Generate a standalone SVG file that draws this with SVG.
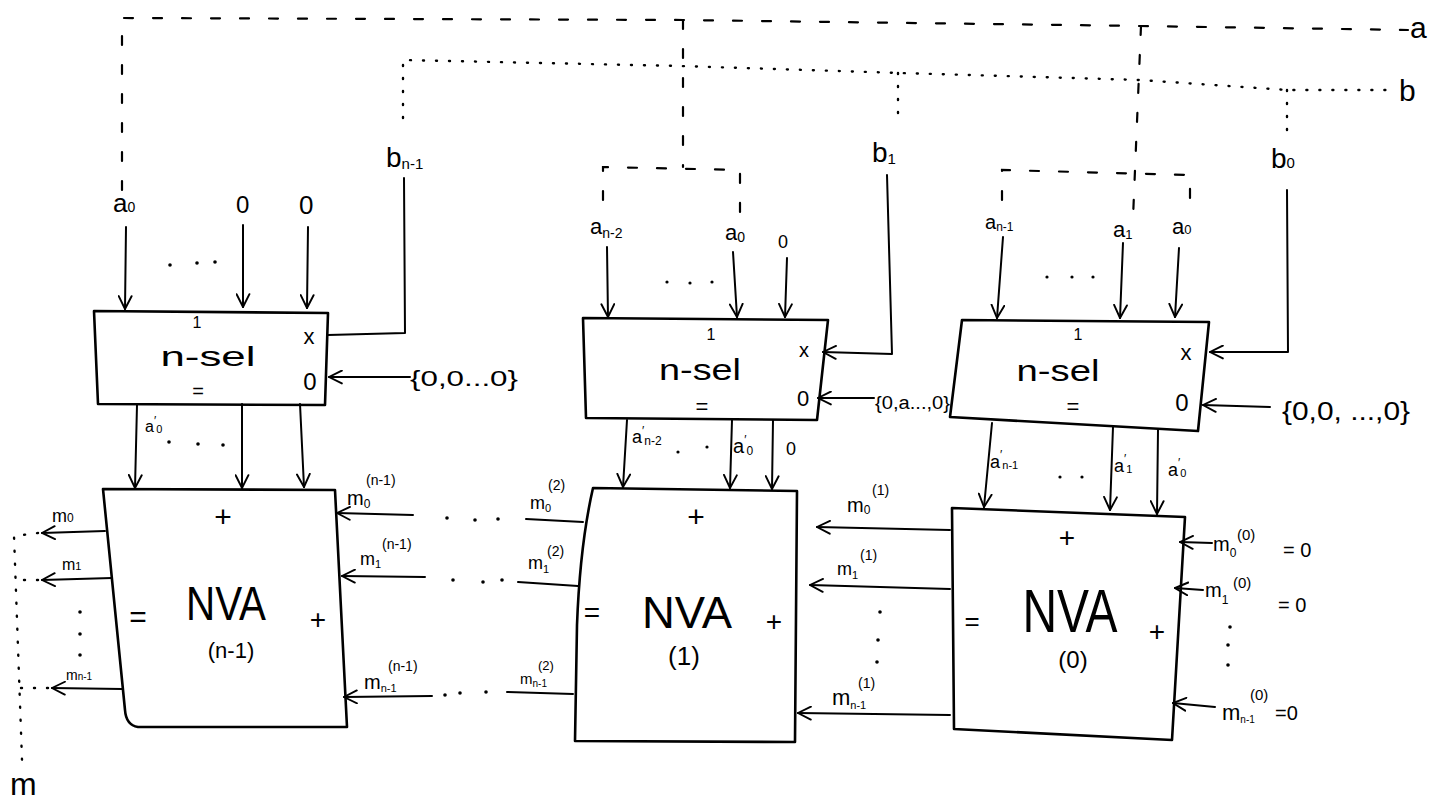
<svg xmlns="http://www.w3.org/2000/svg" width="1446" height="811" viewBox="0 0 1446 811">
<defs>
<marker id="ah" viewBox="0 0 14 14" refX="13" refY="7" markerWidth="15" markerHeight="15" markerUnits="userSpaceOnUse" orient="auto">
<path d="M1,1 L13,7 L1,13" fill="none" stroke="#000" stroke-width="1.8" stroke-linecap="round"/>
</marker>
<style>
.ln{stroke:#000;fill:none;stroke-width:2;stroke-linecap:round;stroke-linejoin:round}
.box{stroke:#000;fill:none;stroke-width:2.6;stroke-linejoin:round}
.dash{stroke:#000;fill:none;stroke-width:2.2;stroke-dasharray:9 20;stroke-linecap:round}
.dot{stroke:#000;fill:none;stroke-width:2.4;stroke-dasharray:1 12;stroke-linecap:round}
.dt{fill:#000}
text{font-family:"Liberation Sans",Arial,sans-serif;fill:#000}
.c{text-anchor:middle}
</style>
</defs>
<rect width="1446" height="811" fill="#fff"/>

<g id="connectors">
<!-- bus a (dashed) -->
<path class="dash" d="M122,190 L122,18 L683,20 L1140,26 L1408,30"/>
<path class="dash" d="M683,20 L683,167"/>
<path class="dash" d="M603,200 L603,167 L740,170 L740,216"/>
<path class="dash" d="M1141,26 L1133,218"/>
<path class="dash" d="M1002,200 L1002,170 L1190,175 L1190,210"/>
<!-- bus b (dotted) -->
<path class="dot" d="M403,118 L403,60 L680,66 L900,73 L1140,80 L1287,90 L1392,90"/>
<path class="dot" d="M898,73 L898,120"/>
<path class="dot" d="M1287,90 L1287,130"/>
<!-- b lines into n-sel x ports -->
<path class="ln" d="M404,178 L405,333 L328,335"/>
<path class="ln" d="M887,175 L892,354 L823,352" marker-end="url(#ah)"/>
<path class="ln" d="M1287,190 L1288,352 L1210,352" marker-end="url(#ah)"/>
<!-- n-sel 1 inputs -->
<path class="ln" d="M126,227 L125,309" marker-end="url(#ah)"/>
<path class="ln" d="M243,225 L243,307" marker-end="url(#ah)"/>
<path class="ln" d="M308,227 L307,308" marker-end="url(#ah)"/>
<path class="ln" d="M410,377 L329,377" marker-end="url(#ah)"/>
<!-- n-sel 2 inputs -->
<path class="ln" d="M607,247 L608,317" marker-end="url(#ah)"/>
<path class="ln" d="M733,252 L737,317" marker-end="url(#ah)"/>
<path class="ln" d="M787,258 L785,317" marker-end="url(#ah)"/>
<path class="ln" d="M874,398 L818,398" marker-end="url(#ah)"/>
<!-- n-sel 3 inputs -->
<path class="ln" d="M1003,237 L997,318" marker-end="url(#ah)"/>
<path class="ln" d="M1123,243 L1120,318" marker-end="url(#ah)"/>
<path class="ln" d="M1179,248 L1175,317" marker-end="url(#ah)"/>
<path class="ln" d="M1270,407 L1203,405" marker-end="url(#ah)"/>
<!-- n-sel to NVA -->
<path class="ln" d="M137,405 L135,488" marker-end="url(#ah)"/>
<path class="ln" d="M242,404 L242,488" marker-end="url(#ah)"/>
<path class="ln" d="M300,404 L304,487" marker-end="url(#ah)"/>
<path class="ln" d="M627,420 L623,487" marker-end="url(#ah)"/>
<path class="ln" d="M732,420 L730,488" marker-end="url(#ah)"/>
<path class="ln" d="M773,420 L772,489" marker-end="url(#ah)"/>
<path class="ln" d="M992,423 L984,507" marker-end="url(#ah)"/>
<path class="ln" d="M1113,427 L1110,510" marker-end="url(#ah)"/>
<path class="ln" d="M1158,430 L1157,514" marker-end="url(#ah)"/>
<!-- NVA 1 outputs to m -->
<path class="ln" d="M105,531 L42,533" marker-end="url(#ah)"/>
<path class="ln" d="M112,578 L42,580" marker-end="url(#ah)"/>
<path class="ln" d="M122,689 L52,688" marker-end="url(#ah)"/>
<path class="dot" d="M38,533 L14,536 L22,760"/>
<path class="dot" d="M38,580 L18,580"/>
<path class="dot" d="M48,688 L20,688"/>
<!-- NVA 2 -> NVA 1 -->
<path class="ln" d="M413,515 L337,513" marker-end="url(#ah)"/>
<path class="ln" d="M425,577 L342,576" marker-end="url(#ah)"/>
<path class="ln" d="M432,696 L344,697" marker-end="url(#ah)"/>
<path class="ln" d="M526,519 L583,522"/>
<path class="ln" d="M518,582 L578,586"/>
<path class="ln" d="M507,692 L573,694"/>
<!-- NVA 3 -> NVA 2 -->
<path class="ln" d="M950,530 L817,527" marker-end="url(#ah)"/>
<path class="ln" d="M950,589 L810,585" marker-end="url(#ah)"/>
<path class="ln" d="M950,715 L798,713" marker-end="url(#ah)"/>
<!-- zero inputs into NVA 3 -->
<path class="ln" d="M1212,543 L1180,542" marker-end="url(#ah)"/>
<path class="ln" d="M1203,590 L1175,588" marker-end="url(#ah)"/>
<path class="ln" d="M1215,707 L1173,703" marker-end="url(#ah)"/>
</g>

<g id="ellipses" class="dt">
<circle cx="170" cy="265" r="1.8"/><circle cx="197" cy="263" r="1.8"/><circle cx="215" cy="262" r="1.8"/>
<circle cx="667" cy="282" r="1.6"/><circle cx="690" cy="283" r="1.6"/><circle cx="712" cy="282" r="1.6"/>
<circle cx="1047" cy="277" r="1.6"/><circle cx="1072" cy="277" r="1.6"/><circle cx="1093" cy="277" r="1.6"/>
<circle cx="169" cy="442" r="1.8"/><circle cx="198" cy="444" r="1.8"/><circle cx="223" cy="445" r="1.8"/>
<circle cx="678" cy="452" r="1.6"/><circle cx="707" cy="447" r="1.6"/>
<circle cx="1060" cy="477" r="1.6"/><circle cx="1082" cy="477" r="1.6"/>
<circle cx="80" cy="612" r="1.8"/><circle cx="80" cy="634" r="1.8"/><circle cx="80" cy="655" r="1.8"/>
<circle cx="447" cy="518" r="1.8"/><circle cx="475" cy="520" r="1.8"/><circle cx="498" cy="519" r="1.8"/>
<circle cx="453" cy="580" r="1.8"/><circle cx="483" cy="582" r="1.8"/><circle cx="502" cy="580" r="1.8"/>
<circle cx="445" cy="695" r="1.8"/><circle cx="460" cy="693" r="1.8"/><circle cx="486" cy="692" r="1.8"/>
<circle cx="880" cy="612" r="1.8"/><circle cx="878" cy="640" r="1.8"/><circle cx="877" cy="662" r="1.8"/>
<circle cx="1230" cy="627" r="1.8"/><circle cx="1228" cy="645" r="1.8"/><circle cx="1228" cy="665" r="1.8"/>
</g>

<g id="nsel1">
<path class="box" d="M94,311 L328,313 L325,405 L98,404 Z"/>
<text x="197" y="328" class="c" font-size="16">1</text>
<text x="208" y="366" class="c" font-size="28" textLength="95" lengthAdjust="spacingAndGlyphs">n-sel</text>
<text x="198" y="398" class="c" font-size="20">=</text>
<text x="309" y="344" class="c" font-size="22">x</text>
<text x="310" y="390" class="c" font-size="24">0</text>
</g>
<g id="nsel2">
<path class="box" d="M583,318 L828,320 L817,420 L586,418 Z"/>
<text x="711" y="340" class="c" font-size="16">1</text>
<text x="700" y="380" class="c" font-size="30" textLength="82" lengthAdjust="spacingAndGlyphs">n-sel</text>
<text x="702" y="414" class="c" font-size="22">=</text>
<text x="804" y="357" class="c" font-size="20">x</text>
<text x="803" y="406" class="c" font-size="22">0</text>
</g>
<g id="nsel3">
<path class="box" d="M962,320 L1209,322 L1198,431 L950,417 Z"/>
<text x="1078" y="340" class="c" font-size="16">1</text>
<text x="1058" y="381" class="c" font-size="30" textLength="83" lengthAdjust="spacingAndGlyphs">n-sel</text>
<text x="1073" y="414" class="c" font-size="22">=</text>
<text x="1186" y="360" class="c" font-size="22">x</text>
<text x="1182" y="411" class="c" font-size="24">0</text>
</g>

<g id="nva1">
<path class="box" d="M103,489 L335,490 L347,727 L138,727 Q126,725 125,710 Z"/>
<text x="223" y="527" class="c" font-size="30">+</text>
<text x="138" y="627" class="c" font-size="30">=</text>
<text x="226" y="620" class="c" font-size="48" textLength="80" lengthAdjust="spacingAndGlyphs">NVA</text>
<text x="231" y="658" class="c" font-size="22">(n-1)</text>
<text x="318" y="629" class="c" font-size="28">+</text>
</g>
<g id="nva2">
<path class="box" d="M593,488 L797,491 L795,742 L575,741 L577,625 Q580,545 593,488 Z"/>
<text x="696" y="527" class="c" font-size="30">+</text>
<text x="592" y="622" class="c" font-size="28">=</text>
<text x="687" y="628" class="c" font-size="44" textLength="90" lengthAdjust="spacingAndGlyphs">NVA</text>
<text x="684" y="665" class="c" font-size="26">(1)</text>
<text x="774" y="631" class="c" font-size="28">+</text>
</g>
<g id="nva3">
<path class="box" d="M952,508 L1185,517 L1172,740 L954,729 Z"/>
<text x="1067" y="547" class="c" font-size="28">+</text>
<text x="972" y="630" class="c" font-size="26">=</text>
<text x="1070" y="632" class="c" font-size="62" textLength="95" lengthAdjust="spacingAndGlyphs">NVA</text>
<text x="1073" y="668" class="c" font-size="24">(0)</text>
<text x="1157" y="641" class="c" font-size="28">+</text>
</g>

<g id="labels">
<text x="1410" y="38" font-size="30">a</text>
<text x="1399" y="101" font-size="30">b</text>
<text x="386" y="167" font-size="28">b<tspan font-size="15" dy="2">n-1</tspan></text>
<text x="872" y="162" font-size="28">b<tspan font-size="15" dy="2">1</tspan></text>
<text x="1271" y="168" font-size="28">b<tspan font-size="15" dy="0">0</tspan></text>

<text x="113" y="212" font-size="26">a<tspan font-size="14" dy="0">0</tspan></text>
<text x="236" y="213" font-size="24">0</text>
<text x="299" y="214" font-size="26">0</text>
<text x="590" y="234" font-size="22">a<tspan font-size="14" dy="4">n-2</tspan></text>
<text x="725" y="240" font-size="22">a<tspan font-size="14" dy="2">0</tspan></text>
<text x="778" y="248" font-size="18">0</text>
<text x="985" y="229" font-size="20">a<tspan font-size="12" dy="2">n-1</tspan></text>
<text x="1113" y="237" font-size="22">a<tspan font-size="13" dy="2">1</tspan></text>
<text x="1172" y="234" font-size="22">a<tspan font-size="13" dy="0">0</tspan></text>

<text x="410" y="386" font-size="22" textLength="108" lengthAdjust="spacingAndGlyphs">{0,0...0}</text>
<text x="875" y="409" font-size="18" textLength="75" lengthAdjust="spacingAndGlyphs">{0,a...,0}</text>
<text x="1282" y="420" font-size="26" textLength="128" lengthAdjust="spacingAndGlyphs">{0,0, ...,0}</text>

<text x="145" y="432" font-size="16">a<tspan font-size="12" dy="-7">′</tspan><tspan font-size="11" dy="8">0</tspan></text>
<text x="632" y="443" font-size="18">a<tspan font-size="12" dy="-8">′</tspan><tspan font-size="12" dy="10">n-2</tspan></text>
<text x="733" y="453" font-size="20">a<tspan font-size="12" dy="-9">′</tspan><tspan font-size="12" dy="11">0</tspan></text>
<text x="786" y="455" font-size="18">0</text>
<text x="990" y="468" font-size="18">a<tspan font-size="12" dy="-9">′</tspan><tspan font-size="11" dy="10">n-1</tspan></text>
<text x="1114" y="472" font-size="18">a<tspan font-size="12" dy="-9">′</tspan><tspan font-size="11" dy="10">1</tspan></text>
<text x="1168" y="476" font-size="18">a<tspan font-size="12" dy="-9">′</tspan><tspan font-size="11" dy="10">0</tspan></text>

<text x="52" y="522" font-size="18">m<tspan font-size="12" dy="0">0</tspan></text>
<text x="62" y="570" font-size="16">m<tspan font-size="11" dy="0">1</tspan></text>
<text x="66" y="680" font-size="14">m<tspan font-size="10" dy="0">n-1</tspan></text>
<text x="10" y="795" font-size="32">m</text>

<text x="347" y="505" font-size="20">m<tspan font-size="12" dy="3">0</tspan></text>
<text x="366" y="485" font-size="14">(n-1)</text>
<text x="360" y="565" font-size="18">m<tspan font-size="11" dy="3">1</tspan></text>
<text x="382" y="549" font-size="14">(n-1)</text>
<text x="364" y="689" font-size="20">m<tspan font-size="11" dy="3">n-1</tspan></text>
<text x="388" y="671" font-size="14">(n-1)</text>

<text x="530" y="509" font-size="18">m<tspan font-size="11" dy="3">0</tspan></text>
<text x="548" y="490" font-size="14">(2)</text>
<text x="528" y="569" font-size="18">m<tspan font-size="11" dy="4">1</tspan></text>
<text x="547" y="556" font-size="14">(2)</text>
<text x="520" y="684" font-size="15">m<tspan font-size="10" dy="3">n-1</tspan></text>
<text x="538" y="670" font-size="13">(2)</text>

<text x="847" y="512" font-size="20">m<tspan font-size="12" dy="2">0</tspan></text>
<text x="872" y="495" font-size="14">(1)</text>
<text x="837" y="575" font-size="18">m<tspan font-size="11" dy="4">1</tspan></text>
<text x="860" y="560" font-size="14">(1)</text>
<text x="832" y="705" font-size="22">m<tspan font-size="11" dy="4">n-1</tspan></text>
<text x="858" y="688" font-size="14">(1)</text>

<text x="1213" y="551" font-size="20">m<tspan font-size="12" dy="6">0</tspan></text>
<text x="1237" y="540" font-size="15">(0)</text>
<text x="1283" y="557" font-size="20">= 0</text>
<text x="1205" y="597" font-size="20">m<tspan font-size="12" dy="7">1</tspan></text>
<text x="1233" y="588" font-size="15">(0)</text>
<text x="1278" y="612" font-size="20">= 0</text>
<text x="1222" y="720" font-size="22">m<tspan font-size="10" dy="3">n-1</tspan></text>
<text x="1250" y="700" font-size="15">(0)</text>
<text x="1275" y="720" font-size="20">=0</text>
</g>
</svg>
